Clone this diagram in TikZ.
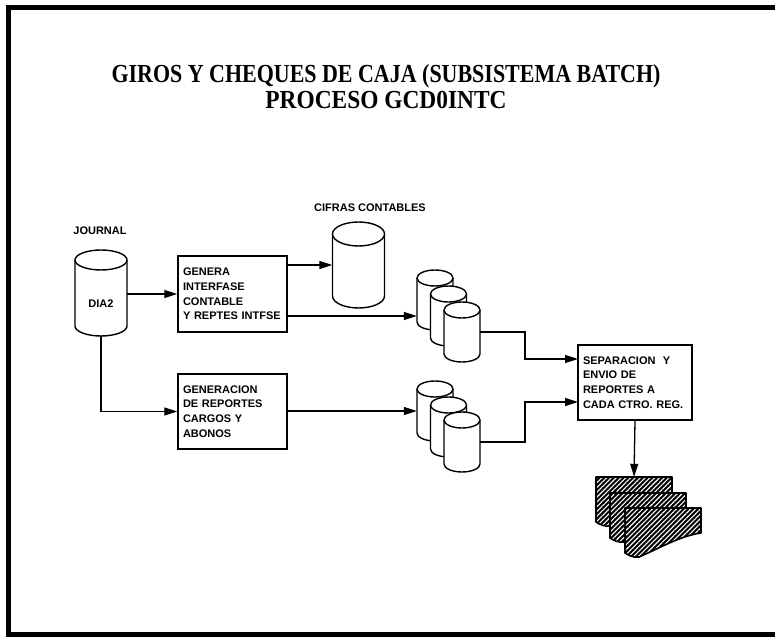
\documentclass[tikz,border=0pt]{standalone}
\usepackage{fontspec}
\setmainfont{Liberation Serif}
\setsansfont{Liberation Sans}
\usetikzlibrary{arrows.meta,patterns.meta}

% drum (disk file) drawn as a cylinder, with an invisible named box for connections
% #1 name, #2 centre x, #3 centre y, #4 width, #5 height, #6 ellipse y radius
\newcommand\drumat[6]{%
  \pgfmathsetmacro\drx{#4/2}%
  \pgfmathsetmacro\dtop{#3+#5/2}%
  \pgfmathsetmacro\dbot{#3-#5/2}%
  \filldraw[drumline] (#2-\drx,\dtop-#6) -- (#2-\drx,\dbot+#6)
    arc[start angle=180,end angle=360,x radius=\drx pt,y radius=#6pt]
    -- (#2+\drx,\dtop-#6)
    arc[start angle=0,end angle=180,x radius=\drx pt,y radius=#6pt] -- cycle;
  \draw[drumline] (#2-\drx,\dtop-#6)
    arc[start angle=180,end angle=360,x radius=\drx pt,y radius=#6pt];
  \node[drumbox,minimum width=#4pt,minimum height=#5pt] (#1) at (#2,#3) {};
}

% printed report sheet with a torn lower edge, top-left corner at (#1,#2)
\newcommand\sheetpath[2]{(#1,#2) -- (#1+76,#2) -- (#1+76,#2-25)
  .. controls (#1+55,#2-28) and (#1+35,#2-40) .. (#1+14,#2-49)
  .. controls (#1+8,#2-50) and (#1+3,#2-47) .. (#1,#2-45) -- cycle}

\tikzset{
  drumline/.style={draw=black,fill=white,line width=1.4pt,line join=round},
  drumbox/.style={rectangle,inner sep=0pt,draw=none},
  procbox/.style={rectangle,draw=black,line width=1.5pt,fill=white,
    font=\sffamily\bfseries\fontsize{11}{14.7}\selectfont,
    align=left,inner xsep=5pt,inner ysep=0pt},
  label/.style={font=\sffamily\bfseries\fontsize{11}{13}\selectfont,inner sep=0pt},
  titletext/.style={font=\rmfamily\bfseries\fontsize{26}{28}\selectfont,inner sep=0pt},
  arr/.style={draw=black,line width=1.3pt,-{Triangle[length=13pt,width=8pt]}},
  sheet/.style={draw=black,line width=1.6pt,line join=round,preaction={fill=black},
    pattern={Lines[angle=45,distance=3.4pt,line width=1.1pt]},pattern color=white},
  frameline/.style={draw=black,line width=5pt,line join=miter}
}

\begin{document}
\begin{tikzpicture}[x=1pt,y=1pt]
\useasboundingbox (0,0) rectangle (775,642);

% page frame: left, top and bottom rules
\draw[frameline] (775,634) -- (8,634) -- (8,7.5) -- (775,7.5);

% title
\node[titletext] (t1) at (386,566) {\scalebox{0.845}[1]{GIROS Y CHEQUES DE CAJA (SUBSISTEMA BATCH)}};
\node[titletext] (t2) at (386,542) {\scalebox{0.9}[1]{PROCESO GCD0INTC}};

% files
\node[label] (jlab) at (100,411) {JOURNAL};
\drumat{jr}{101}{349}{52}{86}{10}
\node[label] (dia) at (101,338) {DIA2};

\node[label] (clab) at (370,434) {CIFRAS CONTABLES};
\drumat{cf}{358.5}{377}{52}{86}{12}

\drumat{sA}{435}{342}{36}{60}{8}
\drumat{sB}{448.5}{326}{36}{60}{8}
\drumat{sC}{462}{310}{36}{60}{8}

\drumat{lA}{435}{231}{36}{60}{8}
\drumat{lB}{448.5}{215}{36}{60}{8}
\drumat{lC}{462}{200}{36}{60}{8}

% processes
\node[procbox,text width=99pt,minimum height=76pt] (b1) at (232.5,348)
  {GENERA\\INTERFASE\\CONTABLE\\Y REPTES INTFSE};
\node[procbox,text width=99pt,minimum height=75pt] (b2) at (232.5,230.5)
  {GENERACION\\DE REPORTES\\CARGOS Y\\ABONOS};
\node[procbox,text width=104pt,minimum height=75pt] (b3) at (635,259.5)
  {SEPARACION\ \ Y\\ENVIO DE\\REPORTES A\\CADA CTRO. REG.};

% report sheets
\draw[sheet] \sheetpath{596}{165};
\draw[sheet] \sheetpath{610}{149};
\draw[sheet] \sheetpath{625}{134};
\node[drumbox,minimum width=76pt,minimum height=48pt] (rep) at (634,141) {};

% connection points
\coordinate (b3a) at (578,283);
\coordinate (b3b) at (578,240);
\coordinate (bend) at (525,260);

% flows
\draw[arr] (jr.east |- b1.west) -- (b1.west);
\draw[arr] (jr.south) |- (b2.west);
\draw[arr] (b1.east |- cf.west) -- (cf.west);
\draw[arr] (b1.east |- sB.center) -- (sA.west |- sB.center);
\draw[arr] (b2.east |- lA.west) -- (lA.west);
\draw[arr] (sC.east) -- (sC.east -| bend) |- (b3a);
\draw[arr] (lC.east) -- (lC.east -| bend) |- (b3b);
\draw[arr] (b3.south) -- (rep.north);
\end{tikzpicture}
\end{document}
